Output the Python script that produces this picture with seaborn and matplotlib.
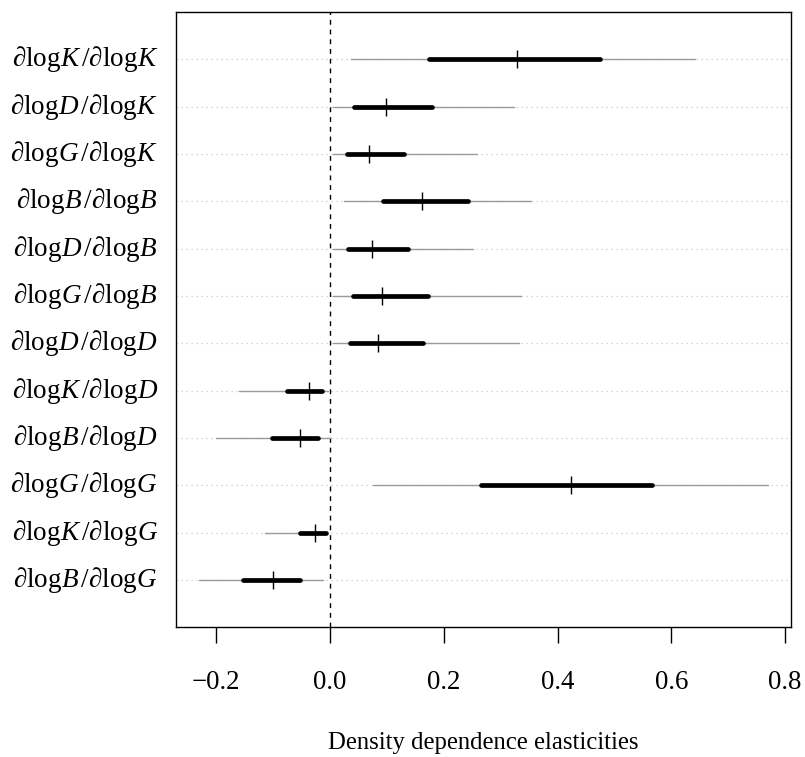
import matplotlib
matplotlib.use("Agg")
import matplotlib.pyplot as plt
import seaborn as sns
import numpy as np
import pandas as pd

# ---- data (top row first) ----
numerators   = ["K", "D", "G", "B", "D", "G", "D", "K", "B", "G", "K", "B"]
denominators = ["K", "K", "K", "B", "B", "B", "D", "D", "D", "G", "G", "G"]
low    = [0.036, 0.006, 0.006, 0.025, 0.006, 0.006, 0.006, -0.160, -0.201, 0.075, -0.115, -0.231]
q_low  = [0.174, 0.042, 0.029, 0.093, 0.031, 0.040, 0.035, -0.076, -0.103, 0.265, -0.053, -0.153]
median = [0.329, 0.098, 0.069, 0.162, 0.074, 0.092, 0.084, -0.037, -0.053, 0.423, -0.026, -0.101]
q_high = [0.475, 0.179, 0.130, 0.242, 0.137, 0.172, 0.164, -0.014, -0.021, 0.567, -0.008, -0.053]
high   = [0.642, 0.324, 0.258, 0.354, 0.251, 0.336, 0.333, -0.003, -0.001, 0.770, -0.006, -0.012]
xticks = [-0.2, 0.0, 0.2, 0.4, 0.6, 0.8]
xlabel = "Density dependence elasticities"

sns.set_theme(style="white")
plt.rcParams["font.family"] = ["Liberation Serif", "DejaVu Serif"]
plt.rcParams["mathtext.fontset"] = "custom"
plt.rcParams["mathtext.rm"] = "Liberation Serif"
plt.rcParams["mathtext.it"] = "Liberation Serif:italic"
plt.rcParams["axes.unicode_minus"] = True
for key in ["text.color", "axes.labelcolor", "xtick.color", "ytick.color",
            "xtick.labelcolor", "ytick.labelcolor", "axes.edgecolor"]:
    plt.rcParams[key] = "black"

n = len(numerators)
labels = [r"$\partial\mathrm{log}%s\,/\partial\mathrm{log}%s$" % (a, b)
          for a, b in zip(numerators, denominators)]
pos = list(range(n, 0, -1))

df = pd.DataFrame({"label": labels, "pos": pos, "low": low, "q_low": q_low,
                   "median": median, "q_high": q_high, "high": high})

thin = pd.concat([df[["label", "pos"]].assign(value=df["low"]),
                  df[["label", "pos"]].assign(value=df["high"])])
thick = pd.concat([df[["label", "pos"]].assign(value=df["q_low"]),
                   df[["label", "pos"]].assign(value=df["q_high"])])

fig, ax = plt.subplots(figsize=(8.05, 7.57), dpi=100)
fig.subplots_adjust(left=0.2186, right=0.9822, top=0.984, bottom=0.1713)

ax.axvline(0, color="black", lw=1.0, ls=(0, (3.5, 3.5)), zorder=1)

sns.lineplot(data=thin, x="value", y="pos", units="label", estimator=None,
             color="#9a9a9a", lw=1.0, ax=ax, legend=False, zorder=2)
sns.lineplot(data=thick, x="value", y="pos", units="label", estimator=None,
             color="black", lw=3.4, solid_capstyle="round", ax=ax,
             legend=False, zorder=3)
sns.scatterplot(data=df, x="median", y="pos", marker="|", s=160,
                color="black", linewidth=1.0, ax=ax, legend=False, zorder=4)

dmin = min(low); dmax = max(high)
pad = 0.04 * (dmax - dmin)
ax.set_xlim(dmin - pad, dmax + pad)
ax.set_ylim(0, n + 1)

ax.set_yticks(pos)
ax.set_yticklabels(labels, fontsize=19.5, color="black")
for t in ax.get_yticklabels():
    t.set_verticalalignment("center")
ax.grid(axis="y", color="#c8c8c8", ls=(0, (1, 3)), lw=0.9)
ax.grid(axis="x", visible=False)
ax.set_axisbelow(True)

ax.set_xticks(xticks)
ax.set_xticklabels(["%.1f" % v if v >= 0 else "\u2212%.1f" % abs(v) for v in xticks],
                   fontsize=19.4, color="black")
ax.tick_params(axis="x", direction="out", length=11.5, width=1.0, color="black",
               pad=19, bottom=True)
ax.tick_params(axis="y", length=0, pad=13)

for s in ax.spines.values():
    s.set_visible(True)
    s.set_color("black")
    s.set_linewidth(1.0)

ax.set_xlabel(xlabel, fontsize=17.8, labelpad=27, color="black")
ax.set_ylabel("")

fig.savefig("out.png", dpi=100)
